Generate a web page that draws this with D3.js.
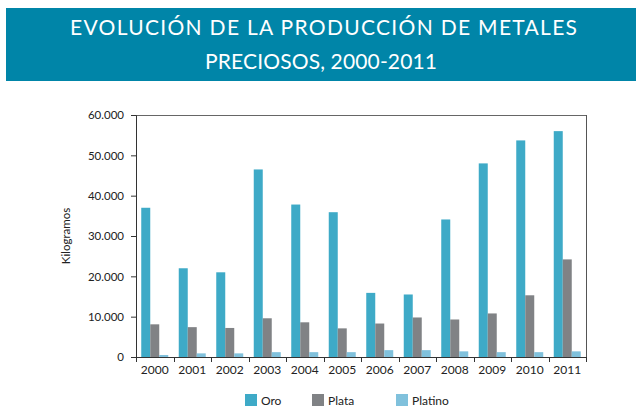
<!DOCTYPE html>
<html><head><meta charset="utf-8">
<script src="https://cdn.jsdelivr.net/npm/d3@7/dist/d3.min.js"></script>
<style>body{margin:0;background:#fff;} svg{display:block;}</style>
</head><body>
<script>
const years = ["2000","2001","2002","2003","2004","2005","2006","2007","2008","2009","2010","2011"];
const seriesNames = ["Oro","Plata","Platino"];
const oro = [37000,22000,21000,46500,37800,35900,15900,15500,34100,48000,53700,56000];
const plata = [8100,7400,7200,9600,8600,7100,8300,9800,9300,10800,15300,24200];
const platino = [500,900,900,1200,1200,1200,1700,1700,1400,1200,1200,1400];
const yTicks = [0,10000,20000,30000,40000,50000,60000];
const titleLines = ["EVOLUCIÓN DE LA PRODUCCIÓN DE METALES","PRECIOSOS, 2000-2011"];
const yLabel = "Kilogramos";
const colors = ["#3eaac7","#808285","#80c1dc"];

const W=636,H=410;
const svg=d3.select("body").append("svg").attr("width",W).attr("height",H);
const font="Lato, 'Open Sans', sans-serif";

// header
svg.append("rect").attr("x",6).attr("y",8).attr("width",630).attr("height",73).attr("fill","#0085a8");
const tl=[{x:70,w:507,y:35},{x:205,w:232,y:69}];
svg.selectAll("text.title").data(titleLines).enter().append("text")
  .attr("x",(d,i)=>tl[i].x).attr("y",(d,i)=>tl[i].y)
  .attr("textLength",(d,i)=>tl[i].w).attr("lengthAdjust","spacing")
  .attr("fill","#fff").attr("font-family",font).attr("font-size",21).text(d=>d);

const m={l:136,r:586,t:115,b:357};
const x=d3.scaleBand().domain(years).range([m.l,m.r]).paddingInner(0.28).paddingOuter(0.14);
const xs=d3.scaleBand().domain(seriesNames).range([0,x.bandwidth()]);
const y=d3.scaleLinear().domain([0,60000]).range([m.b,m.t]);

const data=years.map((yr,i)=>({yr,vals:[oro[i],plata[i],platino[i]]}));
const g=svg.append("g");
g.selectAll("g.grp").data(data).enter().append("g")
  .attr("transform",d=>`translate(${x(d.yr)},0)`)
  .selectAll("rect").data(d=>d.vals.map((v,j)=>({v,j}))).enter().append("rect")
  .attr("x",d=>xs(seriesNames[d.j])).attr("width",xs.bandwidth())
  .attr("y",d=>y(d.v)).attr("height",d=>m.b-y(d.v)).attr("fill",d=>colors[d.j]);

// frame top/right
svg.append("line").attr("x1",m.l).attr("x2",m.r).attr("y1",m.t+0.5).attr("y2",m.t+0.5).attr("stroke","#666").attr("stroke-width",1);
svg.append("line").attr("x1",m.r+0.5).attr("x2",m.r+0.5).attr("y1",m.t).attr("y2",m.b+5).attr("stroke","#555").attr("stroke-width",1);

// y axis
const fmt=d=>d3.format(",")(d).replace(/,/g,".");
const ya=svg.append("g").attr("transform",`translate(${m.l},0)`)
  .call(d3.axisLeft(y).tickValues(yTicks).tickFormat(fmt).tickSize(5).tickPadding(7));
ya.select(".domain").attr("stroke","#333");
ya.selectAll(".tick line").attr("stroke","#333");
ya.selectAll("text").attr("font-family",font).attr("font-size",11.5).attr("fill","#222");

// x axis
const xa=svg.append("g").attr("transform",`translate(0,${m.b})`)
  .call(d3.axisBottom(x).tickSize(0).tickPadding(8));
xa.select(".domain").attr("stroke","#333");
xa.selectAll("text").attr("font-family",font).attr("font-size",12).attr("fill","#222");
const bounds=years.map(d=>x(d)-x.step()*0.14).concat([m.r]);
xa.selectAll("line.sep").data(bounds).enter().append("line").attr("class","sep")
  .attr("x1",d=>Math.round(d)+0.5).attr("x2",d=>Math.round(d)+0.5).attr("y1",0).attr("y2",5).attr("stroke","#333");

// y label
svg.append("text").attr("transform","translate(70,236) rotate(-90)").attr("text-anchor","middle")
  .attr("font-family",font).attr("font-size",11.5).attr("fill","#222").text(yLabel);

// legend
const lx=[245,312,396];
const lg=svg.selectAll("g.leg").data(seriesNames).enter().append("g").attr("transform",(d,i)=>`translate(${lx[i]},394)`);
lg.append("rect").attr("width",12).attr("height",12).attr("fill",(d,i)=>colors[i]);
lg.append("text").attr("x",16).attr("y",10.5).attr("font-family",font).attr("font-size",12).attr("fill","#222").text(d=>d);
</script>
</body></html>
